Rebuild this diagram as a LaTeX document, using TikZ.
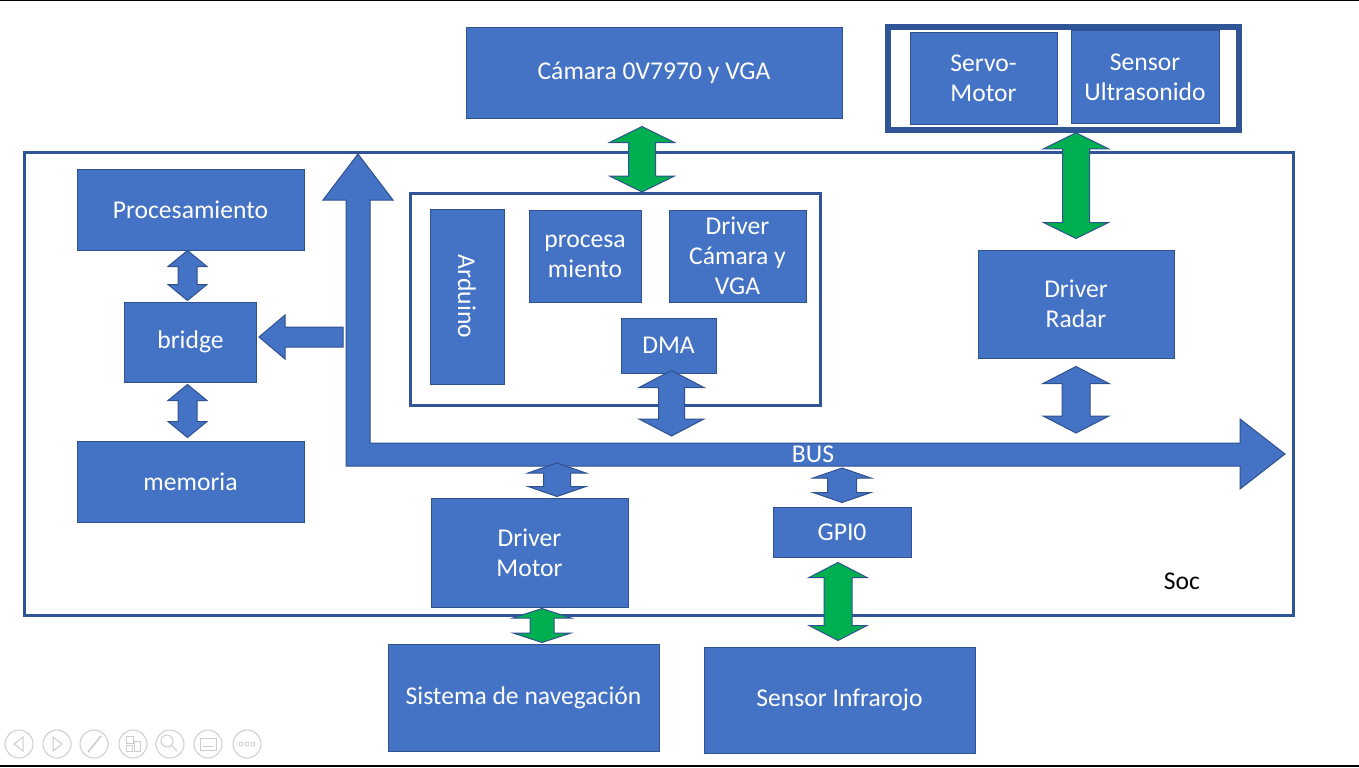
\documentclass[tikz,border=0pt]{standalone}
\usepackage{fontspec}
\setmainfont{Carlito}
\usetikzlibrary{positioning, calc}
\definecolor{boxblue}{RGB}{68, 114, 196}
\definecolor{boxedge}{RGB}{47, 82, 143}
\definecolor{socedge}{RGB}{47, 85, 151}
\definecolor{linkgreen}{RGB}{0, 176, 80}
\definecolor{icongray}{RGB}{205, 205, 205}
\tikzstyle{blk} = [rectangle, draw=boxedge, fill=boxblue, text=white, align=center, inner sep=0pt, line width=0.75pt, font=\fontsize{19.2}{22.5}\selectfont]
\tikzstyle{frame} = [rectangle, draw=socedge, inner sep=0pt, line width=2.25pt]
\tikzstyle{lbl} = [font=\fontsize{19.2}{22.5}\selectfont]
\tikzset{dim/.style 2 args={minimum width=#1*0.75pt, minimum height=#2*0.75pt}}
\tikzset{fat/.style={fill=#1, draw=boxedge, line width=0.75pt}}
% vertical block arrow: x-ref, top anchor, bottom anchor, head half, shaft half, head length, top gap, bottom gap, colour
\newcommand{\vlink}[9]{%
  \path[fat=#9] ($(#1 |- #2)+(0,{#7})$) -- ++({#4},{#6}) -- ++({-#4+#5},0)
    -- ($(#1 |- #3)+({#5},{-(#8)-(#6)})$) -- ++({#4-#5},0) -- ($(#1 |- #3)+(0,{-(#8)})$)
    -- ++({-#4},{-#6}) -- ++({#4-#5},0) -- ($(#1 |- #2)+({-#5},{(#7)+(#6)})$) -- ++({-#4+#5},0) -- cycle;
}

\begin{document}
\begin{tikzpicture}[x=0.75pt, y=-0.75pt]
\useasboundingbox (0,0) rectangle (1359,767);

% slide edges
\draw[line width=1.5pt] (0,0.5) -- (1359,0.5);
\draw[line width=1.5pt] (0,766) -- (1359,766);

% SoC
\node (soc) [frame, dim={1269}{463}] at (659,384) {};
\node (soclbl) [lbl] at (1182,581) {Soc};

% outside blocks
\node (camara) [blk, dim={376}{90}] at (654,73) {Cámara 0V7970 y VGA};
\node (radargrp) [frame, line width=4.2pt, dim={351}{103}] at (1063.5,78.5) {};
\node (servo) [blk, dim={147}{91}] at (983.5,78.5) {Servo-\\Motor};
\node (ultra) [blk, dim={148}{92}] at (1145,77) {Sensor\\Ultrasonido};
\node (nav) [blk, dim={271}{107}] at (523.5,697.5) {Sistema de navegación};
\node (infra) [blk, dim={271}{106}] at (839.5,700) {Sensor Infrarojo};

% left column
\node (proc) [blk, dim={227}{81}] at (190.5,209.5) {Procesamiento};
\node (bridge) [blk, dim={132}{80}, below=38.25pt of proc] {bridge};
\node (memoria) [blk, dim={227}{81}, below=43.5pt of bridge] {memoria};

% camera block
\node (cpu) [frame, dim={410}{212}] at (615.5,299.5) {};
\node (arduino) [blk, rotate=-90, dim={175}{74}] at (467,296.5) {Arduino};
\node (procesa) [blk, dim={112}{92}] at (585,256) {procesa\\miento};
\node (drvcam) [blk, dim={137}{92}] at (737.5,256) {Driver\\Cámara y\\VGA};
\node (dma) [blk, dim={95}{55}] at (668.5,345.5) {DMA};

% drivers
\node (radar) [blk, dim={196}{108}] at (1076,304) {Driver\\Radar};
\node (motor) [blk, dim={197}{109}] at (529.5,552.5) {Driver\\Motor};
\node (gpio) [blk, dim={138}{50}] at (842,532) {GPI0};

% bus
\path[fat=boxblue] (358,154) -- (393,200) -- (370,200) -- (370,443) -- (1240,443) -- (1240,419)
  -- (1285,454) -- (1240,489) -- (1240,466) -- (346,466) -- (346,200) -- (323,200) -- cycle;
\node (bus) [lbl, text=white] at (813,454) {BUS};
\coordinate (bustop) at (0,443);
\coordinate (busbot) at (0,466);

% bus to bridge
\path[fat=boxblue] ($(bridge.east)+(2,-5)$) -- ++(26,-22) -- ++(0,12) -- ++(58,0) -- ++(0,20)
  -- ++(-58,0) -- ++(0,12) -- cycle;

% block arrows
\coordinate (xcam) at (642,0);
\coordinate (xleft) at (187.5,0);
\coordinate (xdma) at (671.5,0);
\coordinate (xmot) at (557,0);
\coordinate (xnav) at (542,0);
\coordinate (xinf) at (838,0);
\vlink{xcam}{camara.south}{cpu.north}{32.5}{13.5}{16}{8}{0}{linkgreen}
\vlink{radar}{radargrp.south}{radar.north}{32.5}{13.5}{16}{0}{11}{linkgreen}
\vlink{radar}{radar.south}{bustop}{33}{14}{17}{8}{10}{boxblue}
\vlink{xdma}{dma.south}{bustop}{32.5}{13}{17}{-3}{7}{boxblue}
\vlink{xleft}{proc.south}{bridge.north}{19.5}{9.5}{16}{0}{1}{boxblue}
\vlink{xleft}{bridge.south}{memoria.north}{19.5}{9.5}{16}{2}{3}{boxblue}
\vlink{xmot}{busbot}{motor.north}{29}{13.5}{10}{-3}{1}{boxblue}
\vlink{gpio}{busbot}{gpio.north}{29}{14.5}{10}{2}{4}{boxblue}
\vlink{xinf}{gpio.south}{infra.north}{29}{14}{15}{5}{6}{linkgreen}
\vlink{xnav}{motor.south}{nav.north}{29}{12}{9.5}{1}{1}{linkgreen}

% slideshow controls
\foreach \ix in {19,57,94,133,170,208,247}
  \draw[icongray, line width=0.75pt] (\ix,744) circle (14);
\draw[icongray, line width=0.75pt] (14,744) -- (23,737) -- (23,751) -- cycle;
\draw[icongray, line width=0.75pt] (62,744) -- (53,737) -- (53,751) -- cycle;
\draw[icongray, line width=1.2pt] (88,752) -- (101,736);
\draw[icongray, line width=0.75pt] (126,736) rectangle (133,743) (126,745) rectangle (132,751) (134,741) rectangle (140,751);
\draw[icongray, line width=0.75pt] (167,741) circle (6) (171,745) -- (177,751);
\draw[icongray, line width=0.75pt] (200,738) rectangle (216,750) (203,746) -- (213,746);
\foreach \ix in {241,247,253}
  \draw[icongray, line width=0.6pt] (\ix,744) circle (2);

\end{tikzpicture}
\end{document}
